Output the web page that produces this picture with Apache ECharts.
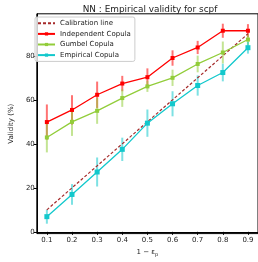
<!DOCTYPE html>
<html>
<head>
<meta charset="utf-8">
<script src="https://cdn.jsdelivr.net/npm/echarts@6/dist/echarts.min.js"></script>
<style>
  html, body { margin: 0; padding: 0; background: #fff; }
  #chart { width: 258px; height: 262px; }
</style>
</head>
<body>
<div id="chart"></div>
<script>
const xValues = [0.1, 0.2, 0.3, 0.4, 0.5, 0.6, 0.7, 0.8, 0.9];
const xTicks = [0.1, 0.2, 0.3, 0.4, 0.5, 0.6, 0.7, 0.8, 0.9];
const yTicks = [0, 20, 40, 60, 80];

const calibration = [10, 20, 30, 40, 50, 60, 70, 80, 90];
const independent = [49.9, 55.4, 62.3, 67.4, 70.3, 79.0, 83.8, 91.4, 91.4];
const independentErr = [8.0, 6.7, 6.0, 3.5, 4.0, 3.5, 3.0, 3.2, 3.0];
const gumbel = [42.9, 50.0, 55.0, 60.8, 66.1, 70.0, 76.3, 81.5, 87.4];
const gumbelErr = [6.8, 6.4, 5.9, 4.0, 2.5, 3.7, 3.8, 5.0, 2.4];
const empirical = [6.9, 17.0, 27.2, 37.5, 49.4, 58.2, 66.5, 72.4, 83.7];
const empiricalErr = [3.2, 4.7, 6.6, 5.3, 6.2, 5.7, 4.6, 4.0, 2.7];

const FONT = "DejaVu Sans";
const TXT = "#222";

const chart = echarts.init(document.getElementById("chart"));

function pairs(vals) {
  return xValues.map((x, i) => [x, vals[i]]);
}

function errorSeries(name, vals, errs, color) {
  return {
    type: "custom",
    name: name + " err",
    data: xValues.map((x, i) => [x, vals[i] - errs[i], vals[i] + errs[i]]),
    encode: { x: 0, y: [1, 2] },
    silent: true,
    renderItem: function (params, api) {
      const lo = api.coord([api.value(0), api.value(1)]);
      const hi = api.coord([api.value(0), api.value(2)]);
      return {
        type: "line",
        shape: { x1: lo[0], y1: lo[1], x2: hi[0], y2: hi[1] },
        style: { stroke: color, lineWidth: 2, opacity: 0.55 }
      };
    }
  };
}

function lineSeries(name, vals, color, size) {
  return {
    type: "line",
    name: name,
    data: pairs(vals),
    symbol: "rect",
    symbolSize: size,
    showSymbol: true,
    itemStyle: { color: color },
    lineStyle: { color: color, width: 1.3 }
  };
}

chart.setOption({
  animation: false,
  title: {
    text: "NN : Empirical validity for scpf",
    left: 145,
    top: 0,
    textAlign: "center",
    textStyle: { fontFamily: FONT, fontSize: 8.9, fontWeight: "normal", color: TXT }
  },
  legend: {
    left: 35,
    top: 17,
    orient: "vertical",
    itemWidth: 17,
    itemHeight: 4,
    itemGap: 2,
    padding: [2, 4, 2, 2],
    borderColor: "#cccccc",
    borderWidth: 1,
    borderRadius: 2,
    backgroundColor: "rgba(255,255,255,0.8)",
    textStyle: { fontFamily: FONT, fontSize: 7, lineHeight: 8.6, color: TXT },
    data: [
      { name: "Calibration line", itemStyle: { opacity: 0 } },
      "Independent Copula",
      "Gumbel Copula",
      "Empirical Copula"
    ]
  },
  grid: {
    left: 32,
    right: -1,
    top: 13.8,
    bottom: 23,
    show: true,
    borderColor: "#000",
    borderWidth: 1
  },
  xAxis: {
    type: "value",
    min: 0.06,
    max: 0.94,
    name: "{n|1 − ε}{s|p}",
    nameLocation: "middle",
    nameGap: 10,
    nameTextStyle: {
      rich: {
        n: { fontFamily: FONT, fontSize: 7, color: TXT },
        s: { fontFamily: FONT, fontSize: 5, color: TXT, verticalAlign: "bottom", padding: [5, 0, 0, 0] }
      }
    },
    axisLine: { show: true, lineStyle: { color: "#000", width: 1 } },
    axisTick: { show: true, inside: false, length: 3, customValues: xTicks, lineStyle: { color: "#000" } },
    axisLabel: {
      customValues: xTicks,
      margin: 3,
      fontFamily: FONT,
      fontSize: 7,
      color: TXT,
      formatter: v => v.toFixed(1)
    },
    splitLine: { show: false }
  },
  yAxis: {
    type: "value",
    min: -0.8,
    max: 99.1,
    name: "Validity (%)",
    nameLocation: "middle",
    nameGap: 13,
    nameTextStyle: { fontFamily: FONT, fontSize: 7, color: TXT },
    axisLine: { show: true, lineStyle: { color: "#000", width: 1 } },
    axisTick: { show: true, inside: false, length: 3, customValues: yTicks, lineStyle: { color: "#000" } },
    axisLabel: {
      customValues: yTicks,
      margin: 2,
      fontFamily: FONT,
      fontSize: 7,
      color: TXT
    },
    splitLine: { show: false }
  },
  series: [
    {
      type: "line",
      name: "Calibration line",
      data: pairs(calibration),
      symbol: "none",
      itemStyle: { color: "#a52a2a" },
      lineStyle: { color: "#a52a2a", width: 1.2, type: [3, 2] }
    },
    lineSeries("Independent Copula", independent, "#ff0000", 4),
    errorSeries("Independent Copula", independent, independentErr, "#ff0000"),
    lineSeries("Gumbel Copula", gumbel, "#92cd3a", 4),
    errorSeries("Gumbel Copula", gumbel, gumbelErr, "#92cd3a"),
    lineSeries("Empirical Copula", empirical, "#12c8cc", 5),
    errorSeries("Empirical Copula", empirical, empiricalErr, "#12c8cc")
  ]
});
</script>
</body>
</html>
